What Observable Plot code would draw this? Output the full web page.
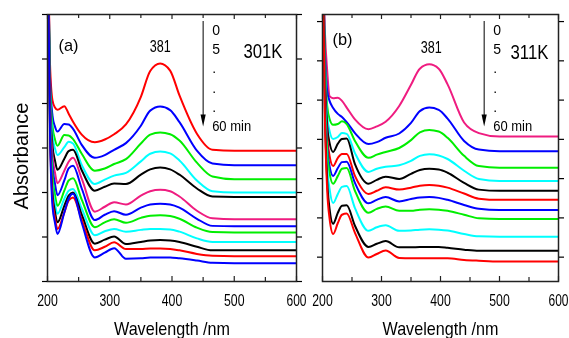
<!DOCTYPE html>
<html><head><meta charset="utf-8">
<script src="https://cdn.jsdelivr.net/npm/d3@7"></script>
<script src="https://cdn.jsdelivr.net/npm/@observablehq/plot@0.6"></script>
<style>
body{margin:0;background:#fff;}
#wrap{position:relative;width:569px;height:338px;overflow:hidden;background:#fff;}
#wrap svg{position:absolute;left:0;top:0;}
#wrap svg text{filter:grayscale(1);}
</style></head><body><div id="wrap"></div>
<script>
// ---------- Panel (a) 301K ----------
const wavelengthsA = [200, 204, 208, 212, 216, 227, 234, 241, 255, 276, 292, 307, 326, 350, 365, 381, 397, 412, 440, 465, 500, 600];
const curveA1  = [8, 4.90, 4.07, 3.91, 3.86, 3.94, 3.77, 3.59, 3.30, 3.13, 3.19, 3.31, 3.53, 4.15, 4.73, 4.90, 4.74, 4.18, 3.32, 2.96, 2.94, 2.94];
const curveA2  = [8, 4.60, 3.73, 3.48, 3.37, 3.54, 3.53, 3.43, 3.07, 2.78, 2.84, 2.96, 3.11, 3.50, 3.84, 3.93, 3.85, 3.58, 2.94, 2.65, 2.61, 2.61];
const curveA3  = [8, 4.45, 3.50, 3.19, 3.05, 3.29, 3.28, 3.20, 2.87, 2.49, 2.54, 2.64, 2.75, 3.10, 3.30, 3.35, 3.31, 3.17, 2.67, 2.36, 2.30, 2.30];
const curveA4  = [8, 4.30, 3.28, 2.99, 2.84, 3.02, 3.14, 3.10, 2.62, 2.19, 2.29, 2.38, 2.44, 2.70, 2.87, 2.92, 2.88, 2.72, 2.27, 2.03, 2.00, 2.00];
const curveA5  = [8, 4.15, 3.05, 2.72, 2.51, 2.76, 2.93, 2.96, 2.50, 2.04, 2.13, 2.20, 2.19, 2.40, 2.52, 2.56, 2.52, 2.40, 2.09, 1.91, 1.90, 1.90];
const curveA6  = [8, 4.00, 2.83, 2.45, 2.21, 2.49, 2.69, 2.78, 2.31, 1.57, 1.68, 1.78, 1.73, 1.93, 2.03, 2.06, 2.03, 1.91, 1.59, 1.42, 1.40, 1.40];
const curveA7  = [8, 3.85, 2.60, 2.20, 1.94, 2.27, 2.54, 2.60, 2.09, 1.38, 1.50, 1.58, 1.50, 1.66, 1.73, 1.75, 1.73, 1.66, 1.41, 1.25, 1.24, 1.24];
const curveA8  = [8, 3.75, 2.38, 1.95, 1.70, 2.04, 2.27, 2.32, 1.84, 1.22, 1.33, 1.40, 1.32, 1.43, 1.48, 1.49, 1.47, 1.41, 1.21, 1.11, 1.10, 1.10];
const curveA9  = [8, 3.65, 2.15, 1.75, 1.52, 1.86, 2.04, 2.08, 1.64, 1.04, 1.13, 1.18, 1.12, 1.16, 1.18, 1.18, 1.17, 1.12, 0.97, 0.89, 0.89, 0.89];
const curveA10 = [8, 3.55, 1.99, 1.57, 1.33, 1.70, 1.93, 2.00, 1.50, 0.85, 0.94, 1.01, 0.84, 0.89, 0.92, 0.93, 0.92, 0.89, 0.78, 0.70, 0.70, 0.70];
const curveA11 = [8, 3.45, 1.86, 1.43, 1.18, 1.55, 1.82, 1.89, 1.39, 0.70, 0.78, 0.88, 0.73, 0.73, 0.74, 0.74, 0.73, 0.70, 0.62, 0.58, 0.57, 0.57];
const curveA12 = [8, 3.35, 1.70, 1.32, 1.07, 1.55, 1.86, 1.97, 1.32, 0.54, 0.65, 0.75, 0.51, 0.52, 0.54, 0.54, 0.54, 0.52, 0.47, 0.42, 0.41, 0.41];
const colorsA = ["#ff0000", "#0000ff", "#00ee00", "#00ffff", "#000000", "#ef1c80", "#0000ff", "#00ee00", "#00ffff", "#000000", "#ff0000", "#0000ff"];

// ---------- Panel (b) 311K ----------
const wavelengthsB = [200, 204, 208, 212, 218, 226, 233, 241, 255, 278, 292, 307, 330, 350, 365, 381, 397, 412, 440, 465, 500, 600];
const curveB1  = [8, 5.76, 4.74, 4.10, 4.05, 4.06, 3.98, 3.81, 3.51, 3.26, 3.33, 3.45, 3.85, 4.39, 4.80, 4.91, 4.80, 4.40, 3.43, 3.16, 3.07, 3.07];
const curveB2  = [8, 5.30, 4.23, 3.98, 3.80, 3.65, 3.57, 3.44, 3.16, 2.88, 2.93, 3.04, 3.15, 3.42, 3.72, 3.81, 3.75, 3.53, 2.96, 2.74, 2.70, 2.70];
const curveB3  = [8, 5.10, 3.85, 3.52, 3.37, 3.39, 3.46, 3.39, 2.96, 2.53, 2.61, 2.68, 2.78, 2.98, 3.18, 3.24, 3.20, 3.04, 2.58, 2.32, 2.28, 2.28];
const curveB4  = [8, 4.90, 3.59, 3.21, 3.01, 3.06, 3.16, 3.14, 2.65, 2.17, 2.25, 2.30, 2.34, 2.45, 2.58, 2.62, 2.59, 2.50, 2.20, 1.99, 1.94, 1.94];
const curveB5  = [8, 4.70, 3.34, 2.91, 2.68, 2.89, 3.01, 3.02, 2.37, 1.87, 1.97, 2.05, 1.99, 2.12, 2.22, 2.25, 2.23, 2.15, 1.89, 1.72, 1.69, 1.69];
const curveB6  = [8, 4.50, 3.09, 2.58, 2.32, 2.53, 2.63, 2.63, 2.07, 1.61, 1.69, 1.78, 1.72, 1.77, 1.82, 1.84, 1.82, 1.77, 1.62, 1.49, 1.46, 1.46];
const curveB7  = [8, 4.35, 2.83, 2.32, 2.07, 2.27, 2.42, 2.43, 1.89, 1.37, 1.46, 1.53, 1.42, 1.48, 1.52, 1.53, 1.51, 1.46, 1.33, 1.23, 1.20, 1.20];
const curveB8  = [8, 4.20, 2.70, 2.14, 1.87, 2.07, 2.25, 2.27, 1.69, 1.13, 1.23, 1.29, 1.18, 1.18, 1.21, 1.22, 1.21, 1.18, 1.08, 0.99, 0.97, 0.97];
const curveB9  = [8, 4.00, 2.32, 1.74, 1.38, 1.61, 1.79, 1.81, 1.25, 0.67, 0.76, 0.81, 0.67, 0.68, 0.70, 0.71, 0.70, 0.68, 0.59, 0.53, 0.52, 0.52];
const curveB10 = [8, 3.80, 1.94, 1.23, 0.85, 1.13, 1.31, 1.32, 0.80, 0.26, 0.34, 0.41, 0.25, 0.25, 0.26, 0.26, 0.26, 0.24, 0.19, 0.16, 0.16, 0.16];
const curveB11 = [8, 3.60, 1.69, 0.98, 0.59, 0.87, 1.08, 1.11, 0.62, -0.01, 0.08, 0.17, -0.02, -0.03, -0.03, -0.03, -0.03, -0.03, -0.07, -0.09, -0.11, -0.11];
const colorsB = ["#ef1c80", "#0000ff", "#00ee00", "#00ffff", "#000000", "#ff0000", "#0000ff", "#00ee00", "#00ffff", "#000000", "#ff0000"];

// ---------- axes & labels ----------
const xTicks = [200, 300, 400, 500, 600];
const xMinorTicks = [250, 350, 450, 550];
const yTicksA = [0, 1, 2, 3, 4, 5, 6];
const yTicksB = [0, 1, 2, 3, 4, 5, 6];
const timeLabels = ["0", "5", ".", ".", ".", "60 min"];
const peakLabel = [381];
const arrowXA = [450];
const arrowXB = [474];
const xTitle = "Wavelength /nm";
const yTitle = "Absorbance";

const font = "'Liberation Sans', Arial, sans-serif";

function rows(wl, series) {
  return series.flatMap((vals, k) => vals.map((v, i) => ({wl: wl[i], A: v, s: k})));
}

function panel({wl, series, colors, domainY, yTicks, marginLeft, marginRight, tag, temp, tagDx, tagDy, tempDx, tempDy, peakDx, peakDy, arrowX, showY}) {
  const W = 569, H = 338, mt = 14, mb = 57;
  const frameH = H - mt - mb;
  const data = rows(wl, series);
  const marks = [
    Plot.line(data, {x: "wl", y: "A", z: "s", stroke: d => colors[d.s], strokeWidth: 2, curve: "monotone-x", clip: true}),
    Plot.frame({stroke: "#222", strokeWidth: 1.5}),
    Plot.tickX(xTicks, {x: d => d, insetTop: frameH - 5, stroke: "#222", strokeWidth: 1.2}),
    Plot.tickX(xMinorTicks, {x: d => d, insetTop: frameH - 4, stroke: "#222", strokeWidth: 1.2}),
    Plot.tickX(xTicks, {x: d => d, insetBottom: frameH - 5, stroke: "#222", strokeWidth: 1.2}),
    Plot.tickX(xMinorTicks, {x: d => d, insetBottom: frameH - 4, stroke: "#222", strokeWidth: 1.2}),
    Plot.axisX({ticks: xTicks, label: null, tickSize: 0, tickPadding: 13, fontSize: 16.5, fontFamily: font, tickFormat: d => String(d)}),
    Plot.axisY({ticks: yTicks, label: null, tickSize: 5, tickFormat: () => "", strokeWidth: 1.2}),
    Plot.axisY({ticks: yTicks, label: null, anchor: "right", tickSize: 5, tickFormat: () => "", strokeWidth: 1.2}),
    Plot.text([xTitle], {frameAnchor: "bottom", lineAnchor: "top", textAnchor: "middle", dy: 40, fontSize: 19, fontFamily: font}),
    Plot.text([tag], {frameAnchor: "top-left", textAnchor: "start", lineAnchor: "middle", dx: tagDx, dy: tagDy, fontSize: 17, fontFamily: font}),
    Plot.text([temp], {frameAnchor: "top-right", textAnchor: "end", lineAnchor: "middle", dx: tempDx, dy: tempDy, fontSize: 20, fontFamily: font}),
    Plot.text(peakLabel, {x: d => d, text: d => String(d), frameAnchor: "top", lineAnchor: "middle", textAnchor: "middle", dx: peakDx, dy: peakDy, fontSize: 16, fontFamily: font}),
    Plot.ruleX(arrowX, {x: d => d, insetTop: 7, insetBottom: frameH - 105, stroke: "#000", strokeWidth: 1}),
    Plot.vector(arrowX, {x: d => d, frameAnchor: "top", dy: 112, length: 12, r: 2.6, shape: "spike", rotate: 180, anchor: "end", fill: "#000", stroke: "none"}),
    Plot.text(arrowX, {x: d => d, text: () => timeLabels.join("\n"), frameAnchor: "top", lineAnchor: "top", textAnchor: "start", dx: 9, dy: 7, lineHeight: 1.37, fontSize: 14, fontFamily: font, fill: "#000"})
  ];
  if (showY) marks.push(Plot.text([yTitle], {frameAnchor: "left", rotate: -90, textAnchor: "middle", lineAnchor: "middle", dx: -26, dy: 8, fontSize: 20, fontFamily: font}));
  return Plot.plot({
    width: W, height: H,
    marginLeft, marginRight, marginTop: mt, marginBottom: mb,
    style: {background: "transparent", overflow: "visible", color: "#000"},
    x: {domain: [200, 600], axis: null, label: null},
    y: {domain: domainY, axis: null, label: null},
    marks
  });
}

const wrap = document.getElementById("wrap");
wrap.appendChild(panel({
  wl: wavelengthsA,
  series: [curveA1, curveA2, curveA3, curveA4, curveA5, curveA6, curveA7, curveA8, curveA9, curveA10, curveA11, curveA12],
  colors: colorsA, domainY: [0, 6], yTicks: yTicksA,
  marginLeft: 47, marginRight: 273, tag: "(a)", temp: "301K",
  tagDx: 11, tagDy: 31, tempDx: -14, tempDy: 37, peakDx: 0, peakDy: 32, arrowX: arrowXA, showY: true
}));
wrap.appendChild(panel({
  wl: wavelengthsB,
  series: [curveB1, curveB2, curveB3, curveB4, curveB5, curveB6, curveB7, curveB8, curveB9, curveB10, curveB11],
  colors: colorsB, domainY: [-0.62, 6.18], yTicks: yTicksB,
  marginLeft: 322, marginRight: 11, tag: "(b)", temp: "311K",
  tagDx: 10, tagDy: 25, tempDx: -10, tempDy: 38, peakDx: 2, peakDy: 33.5, arrowX: arrowXB, showY: false
}));

// The source figure is horizontally compressed: squeeze multi-character horizontal texts to match.
const targetWidths = {"200": 20.5, "300": 20.5, "400": 20.5, "500": 20.5, "600": 20,
  "Wavelength /nm": 116, "(a)": 20, "(b)": 20, "381": 21, "301K": 39, "311K": 38, "60 min": 39};
for (const t of wrap.querySelectorAll("text")) {
  const tspans = t.querySelectorAll("tspan");
  const els = tspans.length ? [...tspans] : [t];
  for (const el of els) {
    const s = el.textContent;
    if (s === yTitle || s.length < 2) continue;
    const w = el.getComputedTextLength();
    if (!w) continue;
    const target = targetWidths[s] != null ? targetWidths[s] : w * 0.85;
    el.setAttribute("textLength", target);
    el.setAttribute("lengthAdjust", "spacingAndGlyphs");
  }
}
</script></body></html>
